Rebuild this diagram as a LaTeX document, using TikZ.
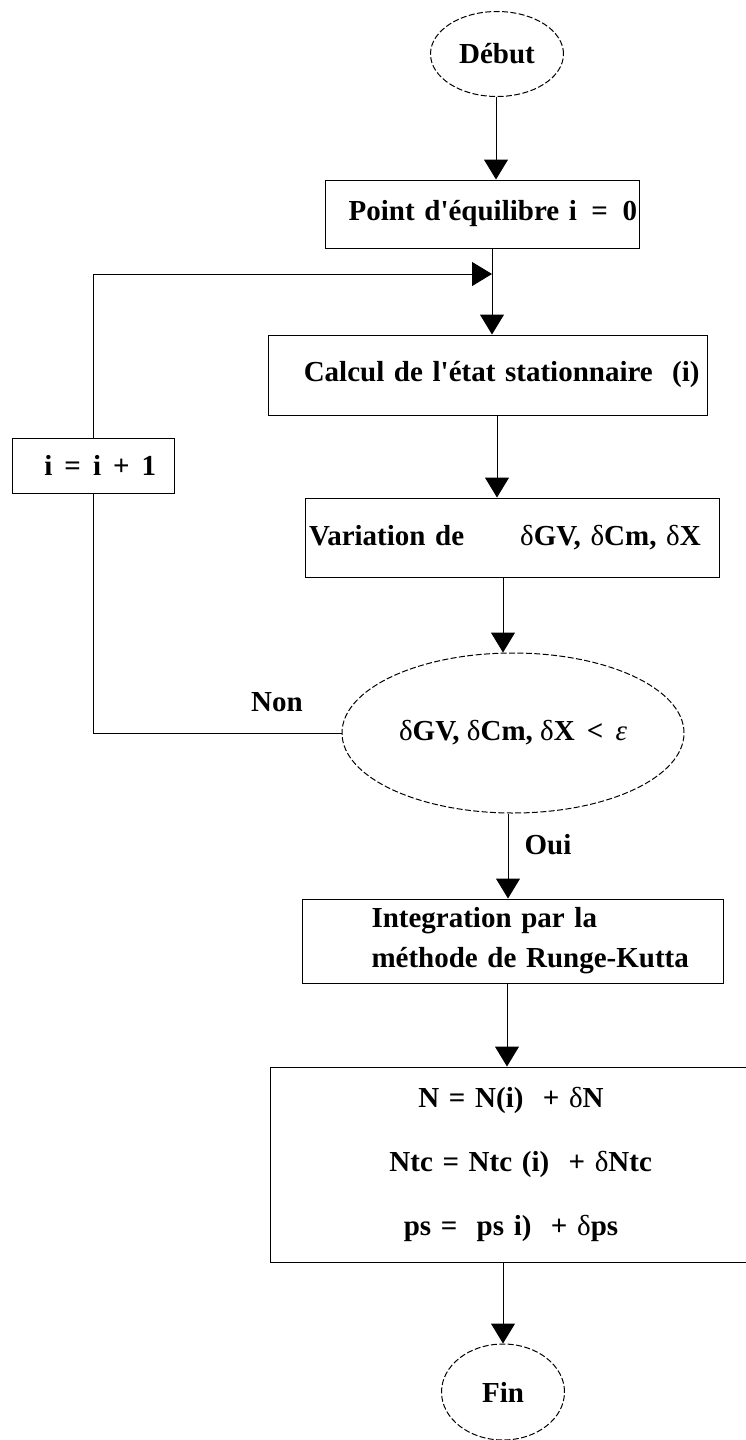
\documentclass[tikz,border=0pt]{standalone}
\usepackage{fontspec}
\setmainfont{Liberation Serif}[Ligatures=TeXOff]
\usetikzlibrary{shapes.geometric,arrows.meta}
\newcommand{\dl}{{\mdseries δ}}
\begin{document}
\begin{tikzpicture}[x=0.5pt,y=-0.5pt,
  font=\fontsize{14.5}{20}\selectfont\bfseries,
  line width=0.5pt,
  box/.style={draw, rectangle, inner sep=0pt},
  oval/.style={draw, ellipse, inner sep=0pt, dash pattern=on 3pt off 1.2pt},
  arr/.style={-{Triangle[width=12pt,length=10pt]}},
  lbl/.style={inner sep=0pt}]
\useasboundingbox (0,0) rectangle (745,1440);

% nodes
\node[oval, minimum width=66.5pt, minimum height=42.5pt] (debut) at (497,54) {Début};
\node[box, minimum width=157pt, minimum height=34pt, text width=155pt, align=right] (b1) at (482,214) {Point d'équilibre i \,=\, 0};
\node[box, minimum width=219.5pt, minimum height=40pt, text width=212pt, align=right] (b2) at (487.5,375) {Calcul de l'état stationnaire \ (i)};
\node[box, minimum width=81pt, minimum height=27.5pt] (ib) at (93,465.5) {\ \ i \,=\, i \,+\, 1};
\node[box, minimum width=207pt, minimum height=39.5pt, text width=203pt, align=left] (b3) at (512,537.5) {Variation de\hspace{28pt}\dl GV, \dl Cm, \dl X};
\node[oval, minimum width=171pt, minimum height=80pt] (dec) at (513,733) {\dl GV, \dl Cm, \dl X \,<\, {\mdseries\itshape ε}};
\node[lbl] (non) at (277,702) {Non};
\node[lbl] (oui) at (548,845) {Oui};
\node[box, minimum width=210.5pt, minimum height=42pt, text width=205pt, align=left] (b4) at (512.5,941) {\hspace*{32pt}Integration par la\\\hspace*{32pt}méthode de Runge-Kutta};
\node[box, minimum width=241pt, minimum height=97.5pt, text width=241pt, align=center] (b5) at (511,1164.5) {N = N(i) \ + \dl N\\[12pt]\ \ Ntc = Ntc (i) \ + \dl Ntc\\[12pt]ps = \ ps i) \ + \dl ps};
\node[oval, minimum width=61.5pt, minimum height=48pt] (fin) at (503,1392) {Fin};

% column coordinates
\coordinate (c1) at (496,0);
\coordinate (c2) at (492,0);
\coordinate (c3) at (497,0);
\coordinate (c4) at (503,0);
\coordinate (c5) at (508,0);
\coordinate (c6) at (507,0);
\coordinate (c7) at (503,0);
\coordinate (lp) at (0,274);

% connectors
\draw[arr] (debut.south -| c1) -- (b1.north -| c1);
\draw[arr] (b1.south -| c2) -- (b2.north -| c2);
\draw[arr] (b2.south -| c3) -- (b3.north -| c3);
\draw[arr] (b3.south -| c4) -- (dec.north -| c4);
\draw[arr] (dec.south -| c5) -- (b4.north -| c5);
\draw[arr] (b4.south -| c6) -- (b5.north -| c6);
\draw[arr] (b5.south -| c7) -- (fin.north -| c7);
\draw (dec.west) -- (dec.west -| ib.south) -- (ib.south);
\draw[arr] (ib.north) -- (ib.north |- lp) -- (lp -| c2);
\end{tikzpicture}
\end{document}
